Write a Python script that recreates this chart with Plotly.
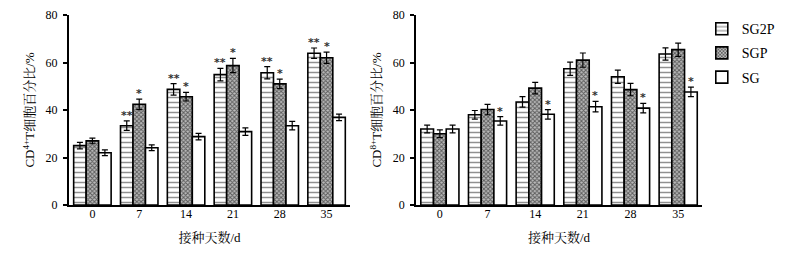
import plotly.graph_objects as go

days = ["0", "7", "14", "21", "28", "35"]
series_names = ["SG2P", "SGP", "SG"]

cd4_sg2p = [25.0, 33.4, 48.7, 54.9, 55.7, 63.9]
cd4_sgp = [27.0, 42.4, 45.6, 58.7, 51.0, 62.0]
cd4_sg = [22.0, 24.1, 28.8, 30.9, 33.4, 36.9]
cd4_sg2p_err = [1.4, 2.0, 2.4, 2.6, 2.6, 2.2]
cd4_sgp_err = [1.2, 2.2, 1.8, 3.0, 2.0, 2.4]
cd4_sg_err = [1.2, 1.2, 1.4, 1.6, 1.8, 1.4]
cd4_sig_sg2p = ["", "**", "**", "**", "**", "**"]
cd4_sig_sgp = ["", "*", "*", "*", "*", "*"]
cd4_sig_sg = ["", "", "", "", "", ""]

cd8_sg2p = [32.0, 38.0, 43.4, 57.4, 54.0, 63.6]
cd8_sgp = [30.0, 40.2, 49.2, 61.0, 48.6, 65.4]
cd8_sg = [32.0, 35.4, 38.2, 41.4, 40.8, 47.6]
cd8_sg2p_err = [1.6, 1.8, 2.2, 2.8, 2.8, 2.6]
cd8_sgp_err = [1.6, 2.2, 2.4, 3.0, 2.6, 2.8]
cd8_sg_err = [1.6, 1.8, 2.0, 2.2, 2.0, 2.0]
cd8_sig_sg2p = ["", "", "", "", "", ""]
cd8_sig_sgp = ["", "", "", "", "", ""]
cd8_sig_sg = ["", "*", "*", "*", "*", "*"]

y_ticks = [0, 20, 40, 60, 80]
x_title = "接种天数/d"
y_title_left = "CD<sup>4+</sup>T细胞百分比/%"
y_title_right = "CD<sup>8+</sup>T细胞百分比/%"

FONT = "Liberation Serif, Noto Serif CJK SC, Noto Sans CJK SC, serif"

styles = [
    dict(marker=dict(color="white", line=dict(color="black", width=1.6),
                     pattern=dict(shape="-", fgcolor="#222", bgcolor="white", size=5, solidity=0.3))),
    dict(marker=dict(color="white", line=dict(color="black", width=1.6),
                     pattern=dict(shape="x", fgcolor="#000", bgcolor="#bbb", size=3, solidity=0.55))),
    dict(marker=dict(color="white", line=dict(color="black", width=1.6))),
]

fig = go.Figure()

panels = [
    ("x", "y", [cd4_sg2p, cd4_sgp, cd4_sg], [cd4_sg2p_err, cd4_sgp_err, cd4_sg_err],
     [cd4_sig_sg2p, cd4_sig_sgp, cd4_sig_sg], False),
    ("x2", "y2", [cd8_sg2p, cd8_sgp, cd8_sg], [cd8_sg2p_err, cd8_sgp_err, cd8_sg_err],
     [cd8_sig_sg2p, cd8_sig_sgp, cd8_sig_sg], True),
]

bar_px = 12.5
for xa, ya, vals, errs, sigs, show in panels:
    for i, name in enumerate(series_names):
        fig.add_trace(go.Bar(
            x=days, y=vals[i], name=name, showlegend=show, legendgroup=name,
            xaxis=xa, yaxis=ya,
            error_y=dict(type="data", array=errs[i], color="black", thickness=1.2, width=3),
            **styles[i]))
        for k, (v, e, s) in enumerate(zip(vals[i], errs[i], sigs[i])):
            if s:
                fig.add_annotation(x=k, y=v + e, text="<b>" + s + "</b>", showarrow=False,
                                   xref=xa, yref=ya,
                                   xshift=(i - 1) * bar_px, yanchor="bottom", yshift=-3,
                                   font=dict(family="DejaVu Sans, sans-serif", size=11, color="#333"))

tickfont = dict(family=FONT, size=12, color="black")
titlefont = dict(family=FONT, size=13, color="black")
xcommon = dict(type="category", range=[-0.5, len(days) - 0.5], autorange=False,
               showline=True, linecolor="black", linewidth=2, showgrid=False,
               zeroline=False, ticks="", tickfont=tickfont, ticklabelstandoff=-3,
               title=dict(text=x_title, font=titlefont, standoff=12))
ycommon = dict(range=[0, 80], tickvals=y_ticks, showline=True, linecolor="black", linewidth=2,
               showgrid=False, zeroline=False, ticks="outside", ticklen=4, tickwidth=1.5,
               tickcolor="black", tickfont=tickfont, ticklabelstandoff=3)

fig.update_layout(
    width=792, height=255,
    margin=dict(l=0, r=0, t=7, b=58),
    plot_bgcolor="white", paper_bgcolor="white",
    barmode="group", bargap=0.2, bargroupgap=0,
    xaxis=dict(domain=[0.0770, 0.4318], anchor="y", **xcommon),
    yaxis=dict(anchor="x", title=dict(text=y_title_left, font=titlefont, standoff=8), **ycommon),
    xaxis2=dict(domain=[0.5152, 0.8763], anchor="y2", **xcommon),
    yaxis2=dict(anchor="x2", title=dict(text=y_title_right, font=titlefont, standoff=8), **ycommon),
    legend=dict(x=0.876, y=1.01, xanchor="left", yanchor="top",
                font=dict(family=FONT, size=14, color="black"), bgcolor="rgba(0,0,0,0)",
                tracegroupgap=3),
    font=dict(family=FONT, color="black"),
)
fig.write_html("out.html")
